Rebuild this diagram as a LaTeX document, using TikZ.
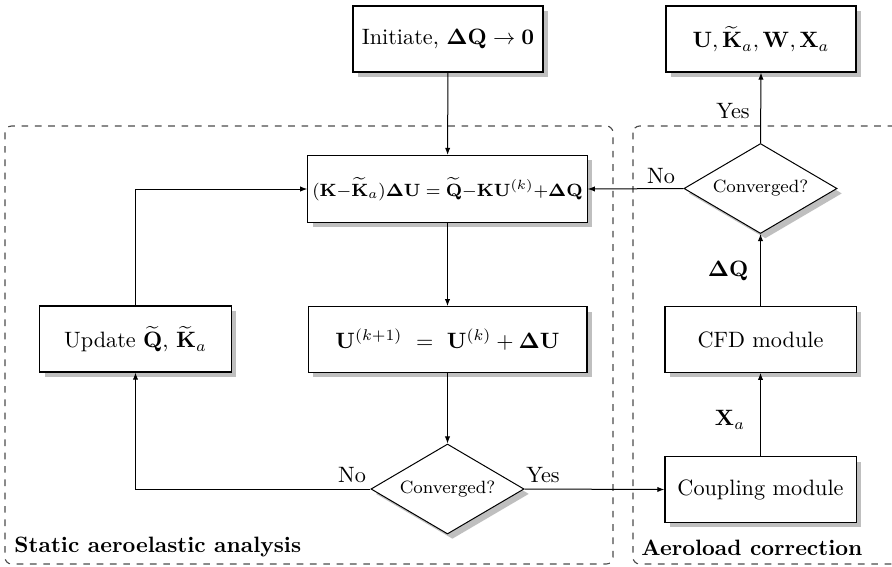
\documentclass[tikz,border=0pt]{standalone}
\usetikzlibrary{shapes.geometric,shadows,arrows.meta}
\begin{document}
\begin{tikzpicture}[x=0.45pt,y=-0.45pt,
  shadowed/.style={drop shadow={shadow xshift=2.2pt,shadow yshift=-2.2pt,fill=black!25,opacity=1}},
  procbox/.style={draw,line width=0.5pt,fill=white,shadowed,rectangle,inner sep=2pt,font=\normalsize},
  decbox/.style={draw,line width=0.45pt,fill=white,shadowed,diamond,aspect=1.7,inner sep=0pt,minimum width=68.9pt,minimum height=40.5pt,font=\footnotesize},
  conn/.style={line width=0.45pt,-{Latex[length=3.2pt,width=2.4pt]}},
  region/.style={draw=black!70,dashed,line width=0.5pt,rounded corners=3pt},
  lbl/.style={font=\normalsize,inner sep=0pt},
  regionlbl/.style={font=\normalsize\bfseries,inner sep=0pt,anchor=west}
]
\clip (0,0) rectangle (892,566);
\fill[white] (0,0) rectangle (892,566);
% regions
\draw[region] (5,126) rectangle (613,564);
\draw[region] (633,126) rectangle (920,564);
\node[regionlbl] (rl1) at (14,547) {Static aeroelastic analysis};
\node[regionlbl] (rl2) at (641,548) {Aeroload correction};
% nodes
\node[procbox,minimum width=85.5pt,minimum height=29.7pt] (init) at (448,39) {Initiate, $\mathbf{\Delta Q}\rightarrow\mathbf{0}$};
\node[procbox,minimum width=85.5pt,minimum height=29.7pt] (out) at (761,39) {$\mathbf{U},\widetilde{\mathbf{K}}_a,\mathbf{W},\mathbf{X}_a$};
\node[procbox,minimum width=125.5pt,minimum height=30.2pt,font=\footnotesize] (eq) at (447.5,189) {$(\mathbf{K}{-}\widetilde{\mathbf{K}}_a)\mathbf{\Delta U}=\widetilde{\mathbf{Q}}{-}\mathbf{K}\mathbf{U}^{(k)}{+}\mathbf{\Delta Q}$};
\node[procbox,minimum width=86pt,minimum height=29.7pt] (upd) at (135.5,339) {Update $\widetilde{\mathbf{Q}}$, $\widetilde{\mathbf{K}}_a$};
\node[procbox,minimum width=125.5pt,minimum height=29.5pt] (unew) at (447.5,339.5) {$\mathbf{U}^{(k+1)}\ =\ \mathbf{U}^{(k)}+\mathbf{\Delta U}$};
\node[decbox] (c1) at (447.5,489) {Converged?};
\node[decbox] (c2) at (760.5,188.5) {Converged?};
\node[procbox,minimum width=86pt,minimum height=29.5pt] (cfd) at (760.5,339.5) {CFD module};
\node[procbox,minimum width=86pt,minimum height=29.5pt] (coup) at (760.5,489.5) {Coupling module};
% connectors
\draw[conn] (init) -- (eq);
\draw[conn] (eq) -- (unew);
\draw[conn] (unew) -- (c1);
\draw[conn] (c1.west) -| (upd.south);
\draw[conn] (upd.north) |- (eq.west);
\draw[conn] (c1.east) -- (coup.west);
\draw[conn] (coup) -- (cfd);
\draw[conn] (cfd) -- (c2);
\draw[conn] (c2.west) -- (eq.east);
\draw[conn] (c2.north) -- (out.south);
% labels
\node[lbl] (lno1) at (352,475) {No};
\node[lbl] (lyes1) at (543,475) {Yes};
\node[lbl] (lno2) at (661,176) {No};
\node[lbl] (lyes2) at (733,111) {Yes};
\node[lbl] (ldq) at (728,271) {$\mathbf{\Delta Q}$};
\node[lbl] (lxa) at (730,420) {$\mathbf{X}_a$};
\end{tikzpicture}
\end{document}
